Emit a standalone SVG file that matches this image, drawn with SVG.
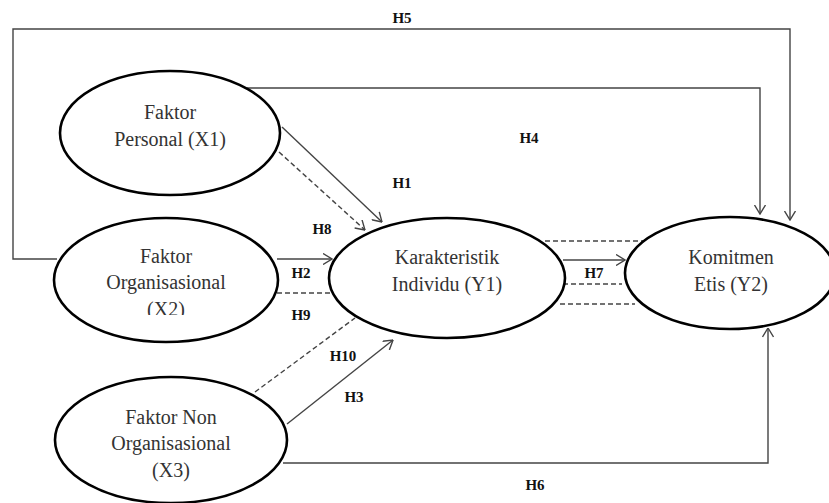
<svg xmlns="http://www.w3.org/2000/svg" width="829" height="503" viewBox="0 0 829 503">
<defs>
<style>
.node{fill:#fff;stroke:#000;stroke-width:2.6}
.nt{font-family:"Liberation Serif","Times New Roman",serif;font-size:20px;fill:#333;text-anchor:middle}
.lbl{font-family:"Liberation Serif","Times New Roman",serif;font-size:15px;font-weight:bold;fill:#111;text-anchor:middle}
.c{fill:none;stroke:#444;stroke-width:1.4}
.d{fill:none;stroke:#444;stroke-width:1.4;stroke-dasharray:5 3}
</style>
<marker id="ah" viewBox="0 0 10 12" refX="9.5" refY="6" markerWidth="10" markerHeight="12" markerUnits="userSpaceOnUse" orient="auto">
<path d="M0.5,0.5 L9.5,6 L0.5,11.5" fill="none" stroke="#444" stroke-width="1.4"/>
</marker>
<clipPath id="clipx2"><rect x="0" y="0" width="829" height="315"/></clipPath>
</defs>
<g id="connectors">
<path class="c" d="M57 259 H13 V29 H790 V220" marker-end="url(#ah)"/>
<path class="c" d="M247 88 H760 V214" marker-end="url(#ah)"/>
<path class="c" d="M282 127 L382 222" marker-end="url(#ah)"/>
<path class="d" d="M279 152 L365 230" marker-end="url(#ah)"/>
<path class="c" d="M277 259 H332" marker-end="url(#ah)"/>
<path class="d" d="M277 293 H330"/>
<path class="d" d="M255 392 L355 318"/>
<path class="c" d="M287 424 L393 340" marker-end="url(#ah)"/>
<path class="c" d="M283 463 H768 V328" marker-end="url(#ah)"/>
<path class="c" d="M563 260 H625" marker-end="url(#ah)"/>
<path class="d" d="M545 241 H643"/>
<path class="d" d="M563 284 H622"/>
<path class="d" d="M560 304 H635"/>
</g>
<g id="x1">
<ellipse class="node" cx="170" cy="133" rx="110" ry="62"/>
<text class="nt" x="170" y="119">Faktor</text>
<text class="nt" x="170" y="146">Personal (X1)</text>
</g>
<g id="x2">
<ellipse class="node" cx="166" cy="280" rx="112" ry="62"/>
<text class="nt" x="166" y="263">Faktor</text>
<text class="nt" x="166" y="289">Organisasional</text>
<text class="nt" x="166" y="316" clip-path="url(#clipx2)">(X2)</text>
</g>
<g id="x3">
<ellipse class="node" cx="171" cy="440" rx="116" ry="63"/>
<text class="nt" x="171" y="424">Faktor Non</text>
<text class="nt" x="171" y="450">Organisasional</text>
<text class="nt" x="171" y="477">(X3)</text>
</g>
<g id="y1">
<ellipse class="node" cx="447" cy="278" rx="118" ry="60"/>
<text class="nt" x="447" y="264">Karakteristik</text>
<text class="nt" x="447" y="291">Individu (Y1)</text>
</g>
<g id="y2">
<ellipse class="node" cx="730" cy="273" rx="105" ry="56"/>
<text class="nt" x="731" y="264">Komitmen</text>
<text class="nt" x="731" y="291">Etis (Y2)</text>
</g>
<g id="labels">
<text class="lbl" x="402" y="23">H5</text>
<text class="lbl" x="529" y="143">H4</text>
<text class="lbl" x="402" y="188">H1</text>
<text class="lbl" x="322" y="234">H8</text>
<text class="lbl" x="301" y="278">H2</text>
<text class="lbl" x="301" y="320">H9</text>
<text class="lbl" x="343" y="361">H10</text>
<text class="lbl" x="354" y="402">H3</text>
<text class="lbl" x="594" y="278">H7</text>
<text class="lbl" x="535" y="490">H6</text>
</g>
</svg>
